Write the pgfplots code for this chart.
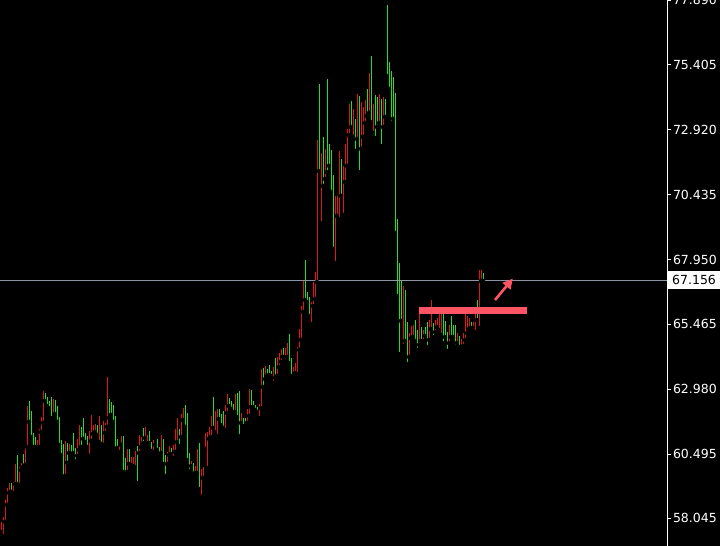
\documentclass[border=0pt]{standalone}
\usepackage{fontspec}
\setmainfont{DejaVu Sans}
\usepackage{pgfplots}
\usepackage{pgfplotstable}
\pgfplotsset{compat=1.18}
\usetikzlibrary{arrows.meta}
\definecolor{barG}{RGB}{34,224,34}
\definecolor{barR}{RGB}{220,24,24}
\definecolor{pinkred}{RGB}{255,84,100}
\definecolor{pline}{RGB}{138,150,164}

\pgfplotstableread{
x lo hi
5 59.05 59.39
8 59.35 60.46
11 60.00 60.50
14 61.73 62.53
15 61.15 62.15
16 60.77 61.31
17 60.77 61.15
22 62.53 62.84
23 62.34 62.68
24 62.26 62.53
25 61.88 62.68
27 62.03 62.57
28 61.73 62.34
29 60.85 61.92
30 60.46 61.04
31 59.62 60.88
33 60.16 60.92
35 60.50 60.85
36 60.54 61.31
37 60.23 60.73
40 60.77 61.54
41 61.08 61.88
42 60.96 61.31
43 60.77 61.19
48 61.23 61.61
50 60.88 61.61
54 61.88 62.61
55 62.00 62.49
56 61.73 62.38
57 60.69 61.96
58 60.73 61.08
61 59.81 61.19
62 59.70 60.35
64 60.12 60.69
68 59.39 60.81
71 60.92 61.50
74 60.92 61.38
75 60.62 60.96
77 60.85 60.92
78 60.66 61.08
79 60.43 60.77
81 60.12 61.08
82 59.66 60.46
85 60.50 60.73
89 60.81 61.46
92 61.54 62.38
93 60.27 62.07
94 59.85 60.54
96 59.70 60.16
99 59.16 60.92
106 61.50 62.68
109 61.84 62.23
110 61.61 62.03
111 61.50 62.15
114 62.34 62.65
115 62.23 62.53
116 62.11 62.42
118 61.92 62.84
119 61.19 62.91
121 61.57 61.88
122 61.57 61.88
125 62.30 62.95
126 62.30 62.53
127 62.19 62.38
128 62.11 62.30
131 63.07 63.80
133 63.49 63.76
134 63.53 63.91
135 63.49 63.68
137 63.41 64.18
141 64.22 64.56
144 63.99 65.10
145 63.49 64.18
152 66.40 67.93
153 66.32 66.71
154 65.79 66.51
159 71.34 74.68
161 70.77 72.65
163 71.30 74.87
164 71.54 72.38
165 70.54 72.15
166 68.36 71.19
170 70.39 71.80
175 73.03 74.03
177 72.11 73.34
179 71.30 74.22
183 73.45 74.49
185 73.22 75.75
187 72.61 74.26
188 73.03 74.18
190 72.30 74.10
192 73.41 74.10
193 74.98 77.70
194 74.49 75.52
195 73.18 75.18
196 73.34 74.95
197 68.97 74.33
198 66.55 69.50
199 64.33 67.82
200 65.60 67.17
202 64.83 66.78
203 63.95 65.56
207 64.83 65.63
208 64.49 65.25
210 64.83 65.36
212 65.02 65.36
213 64.60 65.56
216 64.98 65.52
221 64.75 66.09
222 64.98 65.60
223 64.45 65.17
225 64.98 65.79
226 64.98 65.44
227 64.60 65.44
229 64.60 65.02
235 65.33 65.56
238 65.63 66.40
241 67.13 67.44
}\greentab

\pgfplotstableread{
x lo hi
0 57.51 57.90
1 57.36 58.09
2 57.90 58.74
3 58.55 59.20
4 59.01 59.39
6 59.01 59.43
7 59.35 60.12
9 59.31 60.00
10 59.89 60.16
12 60.08 60.85
13 60.77 62.34
18 60.77 61.04
19 60.77 61.46
20 61.34 61.92
21 61.69 62.91
26 61.88 62.61
32 59.66 61.00
34 60.54 60.88
38 60.43 61.08
39 60.66 61.61
44 60.43 61.38
45 61.00 62.00
46 61.27 61.61
47 61.34 61.65
49 60.96 61.96
51 60.85 61.77
52 61.31 61.69
53 61.54 63.45
59 60.58 60.85
60 60.85 61.19
63 59.81 60.69
65 60.08 60.39
66 60.04 60.39
67 60.00 60.62
69 60.54 61.23
70 60.77 61.15
72 61.11 61.54
73 60.92 61.23
76 60.58 61.04
80 60.54 61.23
83 60.12 60.58
84 60.46 60.81
86 60.35 60.85
87 60.58 61.46
88 60.96 61.88
90 61.15 62.03
91 61.80 62.26
95 60.04 60.23
97 59.77 60.04
98 59.77 60.69
100 58.86 59.93
101 59.58 60.00
102 60.69 61.31
103 59.96 61.34
104 61.08 61.54
105 61.15 61.96
107 61.34 62.15
108 61.19 62.23
112 61.42 62.38
113 62.07 62.80
117 62.11 62.80
120 61.69 62.07
123 61.69 62.23
124 61.96 62.99
129 61.88 62.42
130 62.26 63.76
132 63.37 63.87
136 63.22 63.83
138 63.49 64.22
139 63.83 64.37
140 64.03 64.52
142 64.06 64.56
143 64.22 64.75
146 63.49 63.83
147 63.60 63.99
148 63.57 64.60
149 64.49 65.29
150 64.87 66.17
151 65.94 67.13
155 65.48 66.32
156 66.17 67.09
157 66.44 67.47
158 67.09 72.53
160 69.35 72.03
162 71.04 72.19
167 67.82 70.39
168 69.62 70.39
169 69.50 72.11
171 69.66 71.54
172 70.92 72.38
173 71.54 72.95
174 72.72 73.91
176 72.65 73.72
178 72.57 74.30
180 72.19 73.99
181 72.65 73.80
182 73.18 74.06
184 73.57 75.10
186 72.80 73.91
189 73.18 74.30
191 73.03 74.18
201 64.64 66.94
204 64.22 65.13
205 64.94 65.40
206 64.98 65.44
209 64.68 66.06
211 64.83 65.25
214 64.87 65.63
215 65.29 66.40
217 65.17 65.63
218 65.36 65.71
219 65.25 65.90
220 65.06 65.94
224 64.75 65.44
228 64.75 65.13
230 64.60 64.91
231 64.64 65.13
232 64.87 65.90
233 65.13 65.79
234 65.29 65.71
236 65.33 65.56
237 65.17 65.90
239 65.33 67.55
240 67.13 67.55
}\redtab

\begin{document}
\begin{tikzpicture}
\fill[black] (0,0) rectangle (720pt,546pt);
\begin{axis}[
  at={(0,0)}, anchor=south west,
  scale only axis, width=667pt, height=546pt,
  xmin=-0.5, xmax=333, ymin=56.975, ymax=77.895,
  axis x line=none, axis y line*=right,
  axis line style={white, line width=1pt},
  ytick={58.045,60.495,62.980,65.465,67.950,70.435,72.920,75.405,77.890},
  yticklabels={58.045,60.495,62.980,65.465,67.950,70.435,72.920,75.405,77.890},
  tick style={white, line width=1pt},
  tick align=outside, major tick length=4pt,
  yticklabel style={text=white, font=\fontsize{12.5}{14}\selectfont, anchor=west, xshift=-1.5pt},
  clip=false,
]
\addplot[only marks, mark=none, error bars/.cd, y dir=plus, y explicit, error mark=none,
  error bar style={barG, line width=1pt}]
  table[x=x, y=lo, y error plus expr=\thisrow{hi}-\thisrow{lo}] {\greentab};
\addplot[only marks, mark=none, error bars/.cd, y dir=plus, y explicit, error mark=none,
  error bar style={barR, line width=1pt}]
  table[x=x, y=lo, y error plus expr=\thisrow{hi}-\thisrow{lo}] {\redtab};
\draw[pline, line width=1pt] (axis cs:-0.5,67.156) -- (axis cs:333,67.156);
\fill[pinkred] (axis cs:209.15,65.87) rectangle (axis cs:263.15,66.13);
\draw[pinkred, line width=2.6pt, -{Triangle[length=10pt,width=10pt]}] (axis cs:247,66.40) -- (axis cs:255.9,67.22);
\node[fill=white, text=black, anchor=west, inner xsep=5pt, inner ysep=0pt, minimum height=18pt,
  font=\fontsize{12.5}{14}\selectfont] at (axis cs:333,67.156) {67.156};
\end{axis}
\pgfresetboundingbox
\path (0,0) rectangle (720pt,546pt);
\end{tikzpicture}
\end{document}
